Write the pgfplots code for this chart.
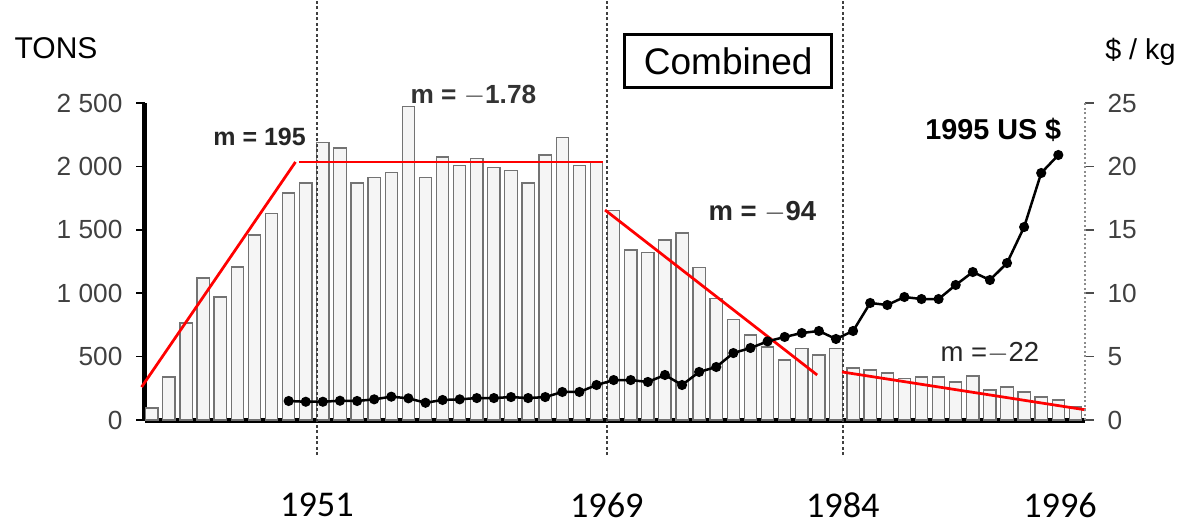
\documentclass[border=0pt]{standalone}
\usepackage{pgfplots}
\pgfplotsset{compat=1.18}
\usepackage{pgfplotstable}
\usepackage{fontspec}
\setmainfont{Liberation Sans}
\newfontfamily\yearfont{Carlito}

% production, tons
\pgfplotstableread{
year tons
1941 95
1942 340
1943 765
1944 1120
1945 970
1946 1207
1947 1460
1948 1630
1949 1790
1950 1870
1951 2190
1952 2145
1953 1870
1954 1910
1955 1950
1956 2470
1957 1915
1958 2075
1959 2010
1960 2065
1961 1990
1962 1970
1963 1870
1964 2090
1965 2230
1966 2010
1967 2030
1968 1655
1969 1340
1970 1320
1971 1420
1972 1475
1973 1200
1974 960
1975 790
1976 670
1977 575
1978 473
1979 565
1980 513
1981 565
1982 410
1983 395
1984 370
1985 330
1986 340
1987 340
1988 300
1989 347
1990 237
1991 260
1992 221
1993 181
1994 158
1995 102
}\tons

% price, 1995 US$ per kg
\pgfplotstableread{
year price
1949 1.50
1950 1.44
1951 1.44
1952 1.52
1953 1.50
1954 1.63
1955 1.84
1956 1.71
1957 1.36
1958 1.58
1959 1.63
1960 1.73
1961 1.73
1962 1.81
1963 1.73
1964 1.81
1965 2.21
1966 2.21
1967 2.76
1968 3.15
1969 3.15
1970 3.00
1971 3.55
1972 2.76
1973 3.79
1974 4.18
1975 5.28
1976 5.68
1977 6.20
1978 6.55
1979 6.86
1980 7.02
1981 6.39
1982 7.02
1983 9.23
1984 9.07
1985 9.70
1986 9.54
1987 9.54
1988 10.65
1989 11.67
1990 11.04
1991 12.38
1992 15.22
1993 19.48
1994 20.90
}\price

\begin{document}
\begin{tikzpicture}
\begin{axis}[
  name=main,
  scale only axis, width=376pt, height=126.8pt,
  xmin=1940.6, xmax=1995.56, ymin=0, ymax=2500,
  axis y line*=left, axis x line*=bottom,
  axis line style={line width=2pt, -},
  clip=false,
  tick align=outside,
  ytick={0,500,...,2500},
  major tick length=3.5pt, minor tick length=3pt,
  every tick/.style={black, line width=0.6pt},
  xtick={1950.65,1967.6,1981.4,1994.1},
  xticklabels={1951,1969,1984,1996},
  xtick style={draw=none},
  minor xtick={1941,...,1995},
  /pgf/number format/assume math mode=true,
  /pgf/number format/1000 sep={\ },
  yticklabel style={font=\fontsize{10.5}{12}\selectfont, text=black!75, xshift=-2pt},
  xticklabel style={font=\yearfont\fontsize{14.5}{16}\selectfont, yshift=-22pt},
]
\addplot[ybar, bar width=0.72, bar shift=0pt, fill=gray!8, draw=black!55, line width=0.5pt]
  table[x=year, y=tons] {\tons};

\draw[black!75, line width=0.7pt, dash pattern=on 1.2pt off 1pt]
  (axis cs:1950.65,-276) -- (axis cs:1950.65,3312);
\draw[black!75, line width=0.7pt, dash pattern=on 1.2pt off 1pt]
  (axis cs:1967.6,-276) -- (axis cs:1967.6,3312);
\draw[black!75, line width=0.7pt, dash pattern=on 1.2pt off 1pt]
  (axis cs:1981.4,-276) -- (axis cs:1981.4,3312);

\addplot[red, line width=1.1pt] coordinates {(1940.4,260) (1949.4,2035)};
\addplot[red, line width=1.1pt] coordinates {(1949.6,2035) (1967.4,2035)};
\addplot[red, line width=1.1pt] coordinates {(1967.5,1656) (1979.9,355)};
\addplot[red, line width=1.1pt] coordinates {(1981.35,379) (1995.6,80)};

\node[font=\fontsize{12}{14}\selectfont] at (axis cs:1935.4,2934) {TONS};
\node[font=\fontsize{11.5}{14}\selectfont] at (axis cs:1998.8,2902) {\$ / kg};
\node[font=\bfseries\fontsize{10}{12}\selectfont, text=black!85] at (axis cs:1947.3,2232) {m = 195};
\node[font=\bfseries\fontsize{10.5}{12}\selectfont, text=black!80] at (axis cs:1959.8,2563) {m = $-$1.78};
\node[font=\bfseries\fontsize{11}{13}\selectfont, text=black!85] at (axis cs:1976.7,1640) {m = $-$94};
\node[font=\bfseries\fontsize{11.5}{14}\selectfont] at (axis cs:1990.2,2287) {1995 US \$};
\node[font=\fontsize{11}{13}\selectfont, text=black!85] at (axis cs:1990.0,528) {m =$-$22};
\node[draw, line width=1.2pt, fill=white, minimum width=83pt, minimum height=21pt,
      font=\fontsize{14.8}{17}\selectfont] at (axis cs:1974.7,2831) {Combined};
\end{axis}

\begin{axis}[
  scale only axis, width=376pt, height=126.8pt,
  xmin=1940.6, xmax=1995.56, ymin=0, ymax=25,
  axis x line=none, axis y line*=right,
  axis line style={black!45, line width=0.8pt, densely dotted, -},
  clip=false,
  tick align=outside,
  ytick={0,5,...,25},
  major tick length=3.5pt,
  every tick/.style={black!70, line width=0.6pt},
  /pgf/number format/assume math mode=true,
  yticklabel style={font=\fontsize{10.5}{12}\selectfont, text=black!75, xshift=2pt},
]
\addplot[black, line width=1pt, mark=*, mark size=1.5pt] table[x=year, y=price] {\price};
\end{axis}

\pgfresetboundingbox
\path (main.south west) ++(-58pt,-43.6pt) rectangle ++(476pt,211.6pt);
\end{tikzpicture}
\end{document}
